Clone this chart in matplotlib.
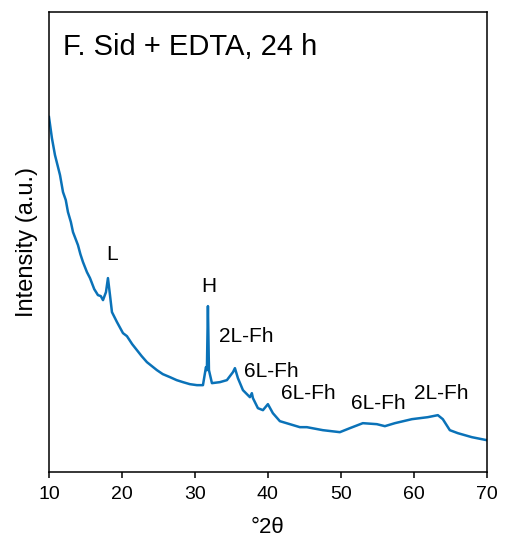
import matplotlib
matplotlib.use("Agg")
import matplotlib.pyplot as plt

plt.rcParams['font.family'] = ['Liberation Sans', 'DejaVu Sans']

# diffraction pattern, °2θ vs intensity (arbitrary units)
two_theta = [10.00, 10.40, 10.82, 11.20, 11.51, 11.92, 12.30, 12.60, 13.00, 13.29,
             13.97, 14.30, 14.66, 15.20, 15.62, 16.20, 16.71, 17.10, 17.40, 17.81,
             18.08, 18.36, 18.63, 19.32, 20.14, 20.68, 21.40, 22.05, 22.70, 23.42,
             24.79, 25.60, 26.58, 27.50, 28.36, 29.30, 30.27, 31.10, 31.51, 31.64,
             31.78, 31.92, 32.33, 33.42, 34.38, 35.21, 35.48, 35.89, 36.58, 37.53,
             37.80, 37.95, 38.63, 39.32, 40.00, 40.68, 41.64, 43.01, 44.38, 45.34,
             47.53, 49.86, 51.23, 53.01, 54.93, 56.03, 57.40, 59.73, 61.92, 63.29,
             63.97, 64.93, 66.03, 67.95, 70.00]
intensity = [355, 334, 317, 306, 297, 280, 272, 260, 250, 240,
             227, 218, 210, 200, 194, 183, 177, 176, 172, 180,
             194, 177, 160, 150, 139, 136, 128, 122, 116, 110,
             102, 98, 95, 92, 90, 88, 87, 87, 105, 102,
             166, 102, 89, 90, 92, 100, 104, 94, 82, 75,
             79, 74, 64, 62, 68, 59, 51, 48, 45, 45,
             42, 40, 44, 49, 48, 46, 49, 53, 55, 57,
             53, 42, 39, 35, 32]

# peak labels: text, x, y
labels = ["L", "H", "2L-Fh", "6L-Fh", "6L-Fh", "6L-Fh", "2L-Fh"]
label_x = [18.6, 31.9, 37.1, 40.5, 45.5, 55.1, 63.8]
label_y = [218, 186, 136, 101, 79, 69, 79]

fig = plt.figure(figsize=(5.05, 5.44), dpi=100)
ax = fig.add_axes([0.097, 0.132, 0.867, 0.846])

ax.plot(two_theta, intensity, color='#0a72b8', lw=1.8)

for t, x, y in zip(labels, label_x, label_y):
    ax.text(x, y, t, fontsize=15, ha='center', va='center')

ax.text(0.032, 0.924, "F. Sid + EDTA, 24 h", transform=ax.transAxes,
        fontsize=21, ha='left', va='center')

ax.set_xlim(10, 70)
ax.set_ylim(0, 460)
ax.set_xticks(range(10, 71, 10))
ax.set_yticks([])
ax.tick_params(axis='x', direction='out', length=4, width=1.1, labelsize=14, pad=6)
for s in ax.spines.values():
    s.set_linewidth(1.1)

ax.set_xlabel("°2θ", fontsize=16, labelpad=10)
ax.set_ylabel("Intensity (a.u.)", fontsize=17, labelpad=8)

fig.savefig("out.png", dpi=100)
